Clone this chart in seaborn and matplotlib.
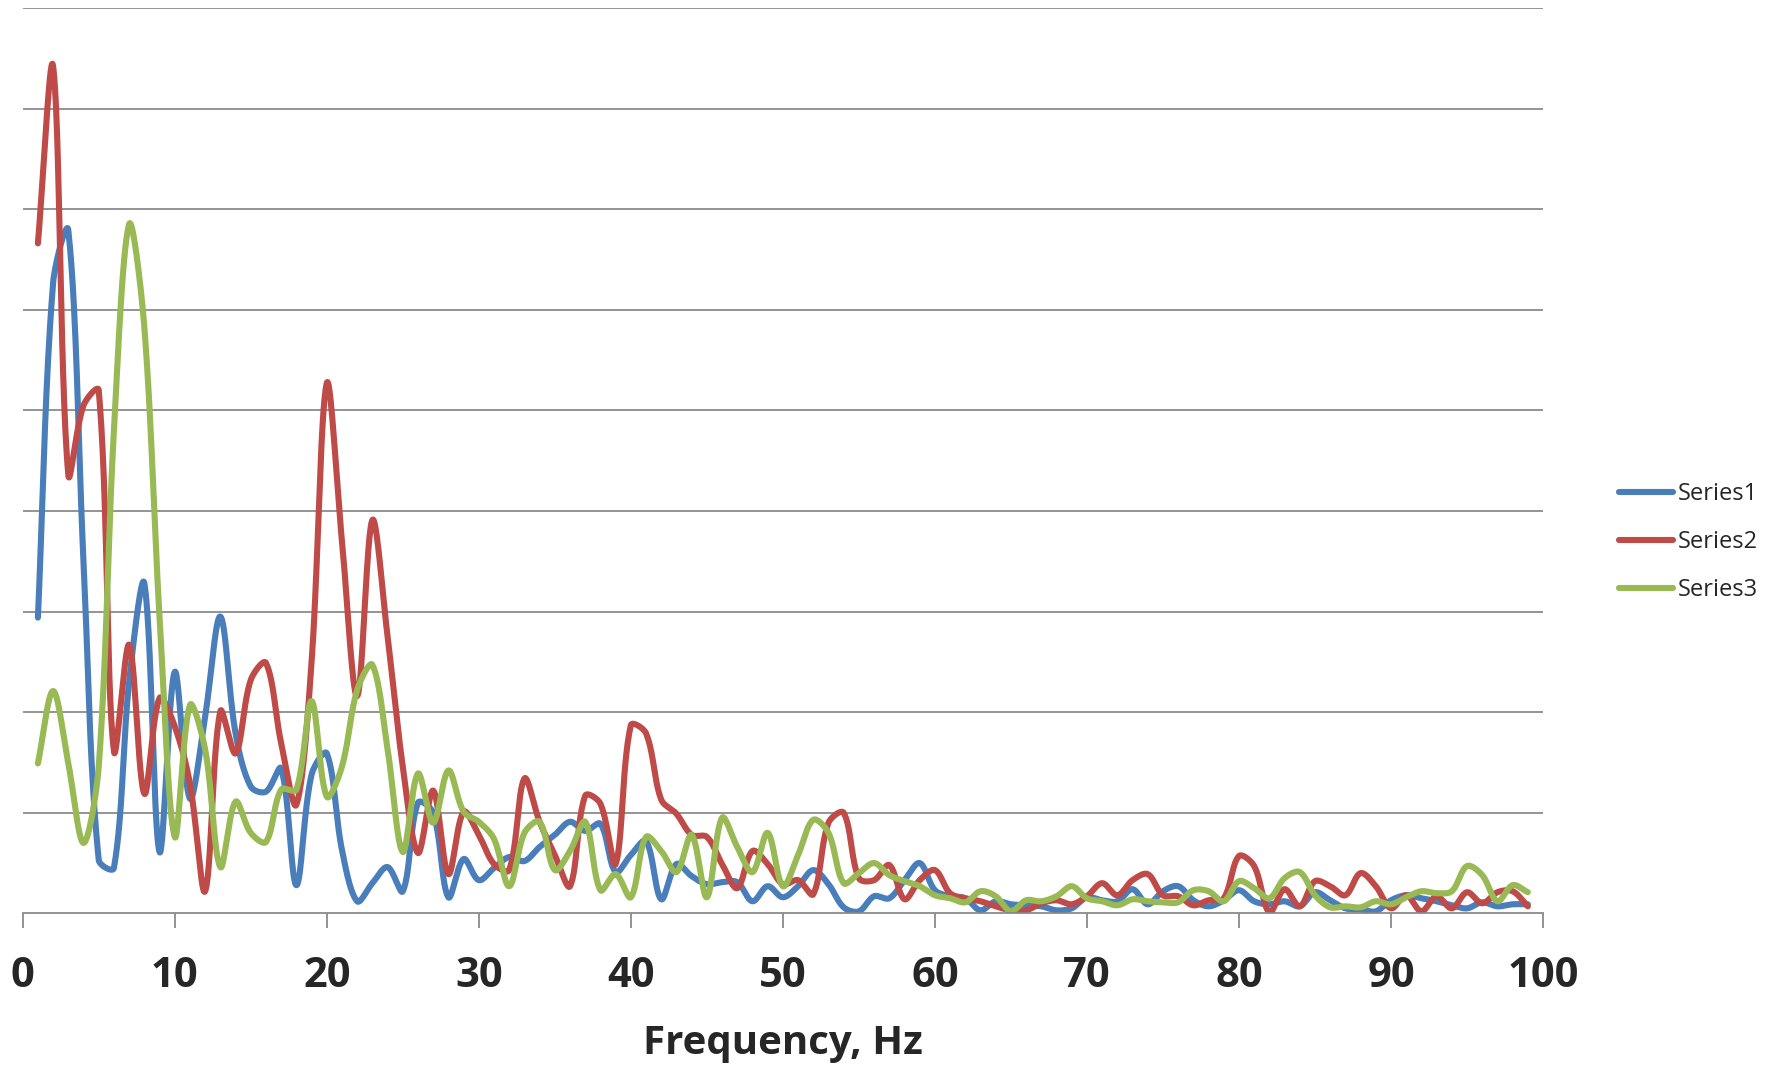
import numpy as np
import pandas as pd
import matplotlib
matplotlib.use("Agg")
import matplotlib.pyplot as plt
import seaborn as sns

# ---------------- data ----------------
freq = list(range(1, 100))
series_names = ["Series1", "Series2", "Series3"]
series1 = [2.94, 6.27, 6.79, 3.5, 0.53, 0.45, 2.3, 3.28, 0.61, 2.40,
           1.14, 1.96, 2.95, 1.79, 1.26, 1.21, 1.44, 0.28, 1.38, 1.59,
           0.63, 0.12, 0.30, 0.46, 0.22, 1.1, 1.0, 0.16, 0.54, 0.33,
           0.45, 0.56, 0.52, 0.66, 0.78, 0.91, 0.82, 0.89, 0.41, 0.58,
           0.72, 0.14, 0.49, 0.37, 0.29, 0.31, 0.31, 0.12, 0.27, 0.16,
           0.27, 0.43, 0.29, 0.06, 0.02, 0.17, 0.15, 0.33, 0.50, 0.23,
           0.17, 0.15, 0.03, 0.12, 0.09, 0.08, 0.07, 0.03, 0.05, 0.16,
           0.13, 0.12, 0.24, 0.09, 0.22, 0.27, 0.13, 0.07, 0.13, 0.23,
           0.12, 0.09, 0.12, 0.07, 0.21, 0.13, 0.05, 0.04, 0.02, 0.13,
           0.18, 0.15, 0.12, 0.08, 0.05, 0.11, 0.07, 0.09, 0.09]
series2 = [6.66, 8.42, 4.36, 5.05, 5.2, 1.61, 2.67, 1.19, 2.14, 1.86,
           1.29, 0.22, 2.01, 1.59, 2.32, 2.49, 1.69, 1.08, 2.5, 5.27,
           3.7, 2.16, 3.91, 2.75, 1.46, 0.60, 1.22, 0.39, 1.01, 0.78,
           0.49, 0.43, 1.34, 0.91, 0.58, 0.27, 1.17, 1.09, 0.49, 1.87,
           1.79, 1.13, 0.99, 0.78, 0.76, 0.49, 0.25, 0.62, 0.49, 0.29,
           0.33, 0.19, 0.9, 1.0, 0.35, 0.33, 0.48, 0.14, 0.33, 0.43,
           0.20, 0.15, 0.12, 0.07, 0.03, 0.03, 0.10, 0.13, 0.09, 0.17,
           0.30, 0.18, 0.33, 0.39, 0.18, 0.17, 0.08, 0.13, 0.15, 0.57,
           0.47, 0.01, 0.24, 0.07, 0.32, 0.27, 0.18, 0.40, 0.27, 0.05,
           0.18, 0.02, 0.17, 0.05, 0.21, 0.10, 0.21, 0.22, 0.07]
series3 = [1.49, 2.21, 1.49, 0.70, 1.46, 4.8, 6.85, 5.83, 2.95, 0.76,
           2.07, 1.63, 0.46, 1.11, 0.80, 0.71, 1.23, 1.23, 2.11, 1.16,
           1.46, 2.22, 2.47, 1.63, 0.61, 1.39, 0.90, 1.42, 1.01, 0.91,
           0.74, 0.27, 0.80, 0.91, 0.43, 0.62, 0.91, 0.23, 0.39, 0.16,
           0.76, 0.62, 0.41, 0.78, 0.16, 0.95, 0.66, 0.41, 0.80, 0.27,
           0.58, 0.93, 0.80, 0.30, 0.40, 0.50, 0.38, 0.32, 0.27, 0.18,
           0.15, 0.11, 0.22, 0.17, 0.02, 0.13, 0.12, 0.17, 0.27, 0.15,
           0.12, 0.08, 0.14, 0.12, 0.11, 0.11, 0.23, 0.22, 0.12, 0.32,
           0.25, 0.15, 0.35, 0.41, 0.18, 0.06, 0.07, 0.06, 0.12, 0.09,
           0.16, 0.22, 0.20, 0.22, 0.47, 0.38, 0.12, 0.28, 0.21]
x_ticks = list(range(0, 101, 10))
x_label = "Frequency, Hz"
colors = ["#4A7EBB", "#BE4B48", "#98B954"]

# approximate screen scale (px per data unit) used for Excel-like smoothing
SX, SY = 15.2, 100.6


def smooth(xs, ys, n=30):
    """Excel-like smoothed line: cubic Bezier segments whose control
    points are scaled by neighbouring segment lengths in screen space."""
    P = np.column_stack([np.asarray(xs, float) * SX, np.asarray(ys, float) * SY])
    m = len(P)
    cb, ca = np.zeros_like(P), np.zeros_like(P)
    for i in range(m):
        if i == 0:
            ca[i] = P[0] + (P[1] - P[0]) / 3.0
            cb[i] = P[0]
        elif i == m - 1:
            cb[i] = P[i] - (P[i] - P[i - 1]) / 3.0
            ca[i] = P[i]
        else:
            d1 = np.linalg.norm(P[i] - P[i - 1])
            d2 = np.linalg.norm(P[i + 1] - P[i])
            T = P[i + 1] - P[i - 1]
            s = d1 + d2 if d1 + d2 > 0 else 1.0
            cb[i] = P[i] - T * (d1 / s) / 3.0
            ca[i] = P[i] + T * (d2 / s) / 3.0
    out = []
    for i in range(m - 1):
        t = np.linspace(0, 1, n, endpoint=(i == m - 2))[:, None]
        b = ((1 - t) ** 3) * P[i] + 3 * ((1 - t) ** 2) * t * ca[i] \
            + 3 * (1 - t) * t ** 2 * cb[i + 1] + t ** 3 * P[i + 1]
        out.append(b)
    out = np.vstack(out)
    return out[:, 0] / SX, out[:, 1] / SY


frames = []
for name, vals in zip(series_names, [series1, series2, series3]):
    sx, sy = smooth(freq, vals)
    frames.append(pd.DataFrame({"x": sx, "y": sy, "series": name}))
df = pd.concat(frames, ignore_index=True)

# ---------------- plot ----------------
sns.set_theme(style="white")
plt.rcParams["font.family"] = ["Open Sans", "DejaVu Sans"]

fig = plt.figure(figsize=(17.79, 10.67), dpi=100)
ax = fig.add_axes([0.01276, 0.1440, 0.8546, 0.8485])

grid_c = "#868686"
for yv in range(1, 10):
    ax.axhline(yv, color=grid_c, lw=1.25, zorder=0)

sns.lineplot(data=df, x="x", y="y", hue="series", palette=colors,
             units="series", estimator=None, sort=False, linewidth=4.4,
             ax=ax, legend=True)

ax.set_xlim(0, 100)
ax.set_ylim(0, 9)
ax.set_yticks([])
ax.set_xticks(x_ticks)
ax.set_xticklabels([str(v) for v in x_ticks], fontsize=30, fontweight="bold")
ax.tick_params(axis="x", direction="out", length=10.8, width=1.25,
               color=grid_c, pad=20, bottom=True)
for side in ["left", "right", "top"]:
    ax.spines[side].set_visible(False)
ax.spines["bottom"].set_color(grid_c)
ax.spines["bottom"].set_linewidth(1.25)
ax.set_ylabel("")
ax.set_xlabel(x_label, fontsize=29, fontweight="bold", labelpad=19)

handles, labels = ax.get_legend_handles_labels()
for h in handles:
    h.set_linewidth(4.4)
ax.legend(handles, labels, loc="center left",
          bbox_to_anchor=(1619 / 1779, 1 - 542 / 1067),
          bbox_transform=fig.transFigure, frameon=False, fontsize=17,
          handlelength=2.3, handletextpad=0.2, labelspacing=1.02,
          borderpad=0, borderaxespad=0)

fig.savefig("out.png", dpi=100)
